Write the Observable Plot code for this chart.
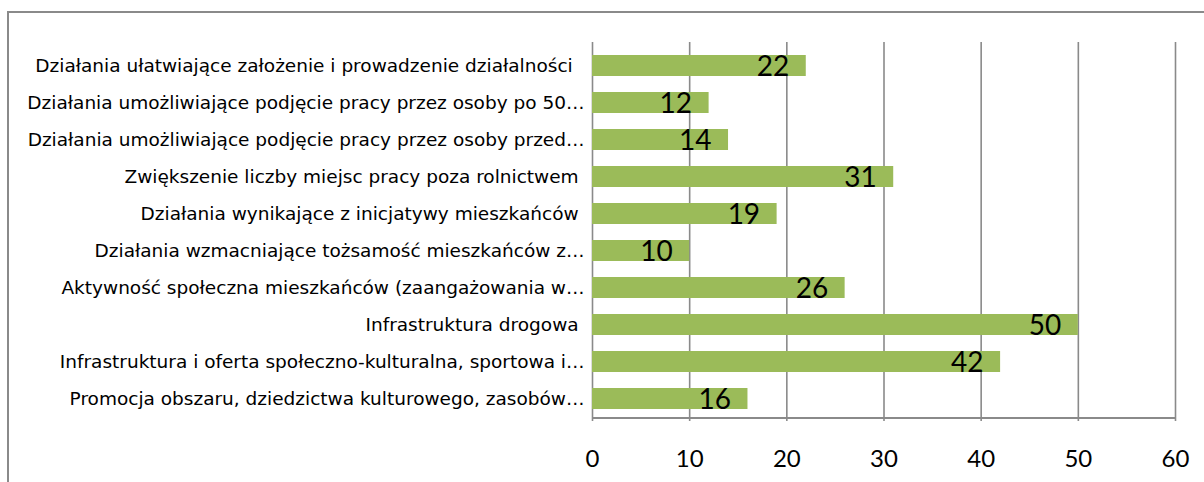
<!DOCTYPE html>
<html>
<head>
<meta charset="utf-8">
<script src="https://cdn.jsdelivr.net/npm/d3@7"></script>
<script src="https://cdn.jsdelivr.net/npm/@observablehq/plot@0.6"></script>
<style>
  html, body { margin: 0; padding: 0; background: #fff; }
  #wrap { position: relative; width: 1204px; height: 482px; overflow: hidden; }
  #border { position: absolute; left: 7px; top: 11px; width: 1300px; height: 600px; border: 2px solid #8a8a8a; box-sizing: border-box; }
  #chart { position: absolute; left: 0; top: 0; }
</style>
</head>
<body>
<div id="wrap"><div id="border"></div><div id="chart"></div></div>
<script>
const categories = [
  "Działania ułatwiające założenie i prowadzenie działalności\u00a0\u00a0",
  "Działania umożliwiające podjęcie pracy przez osoby po 50…",
  "Działania umożliwiające podjęcie pracy przez osoby przed…",
  "Zwiększenie liczby miejsc pracy poza rolnictwem\u00a0",
  "Działania wynikające z inicjatywy mieszkańców\u00a0",
  "Działania wzmacniające tożsamość mieszkańców z…",
  "Aktywność społeczna mieszkańców (zaangażowania w…",
  "Infrastruktura drogowa\u00a0",
  "Infrastruktura i oferta społeczno-kulturalna, sportowa i…",
  "Promocja obszaru, dziedzictwa kulturowego, zasobów…"
];
const values = [22, 12, 14, 31, 19, 10, 26, 50, 42, 16];
const xTicks = [0, 10, 20, 30, 40, 50, 60];

const data = categories.map((c, i) => ({category: c, value: values[i]}));

const chart = Plot.plot({
  width: 1204,
  height: 482,
  marginLeft: 592,
  marginRight: 29,
  marginTop: 42,
  marginBottom: 61,
  style: {background: "transparent"},
  x: {domain: [0, 60], ticks: xTicks},
  y: {domain: categories, paddingInner: 0.445, paddingOuter: 0.2225},
  marks: [
    Plot.gridX(xTicks, {stroke: "#8a8a8a", strokeOpacity: 1, strokeWidth: 1.6}),
    Plot.ruleY([categories[categories.length - 1]], {x1: 0, x2: 60, y: d => d, dy: 19, stroke: "#8a8a8a", strokeWidth: 2}),
    Plot.barX(data, {y: "category", x: "value", fill: "#9BBB59"}),
    Plot.text(data, {y: "category", x: "value", text: d => String(d.value), textAnchor: "end", dx: -17, dy: 1, fontSize: 28, fontFamily: "Lato", fill: "#000"}),
    Plot.axisX(xTicks, {tickSize: 0, tickPadding: 28, fontSize: 24, fontFamily: "Lato", fill: "#000", label: null, tickFormat: d => String(d)}),
    Plot.axisY({tickSize: 0, tickPadding: 8, fontSize: 18.5, fontFamily: "DejaVu Sans", fill: "#000", label: null})
  ]
});
document.getElementById("chart").appendChild(chart);
</script>
</body>
</html>
